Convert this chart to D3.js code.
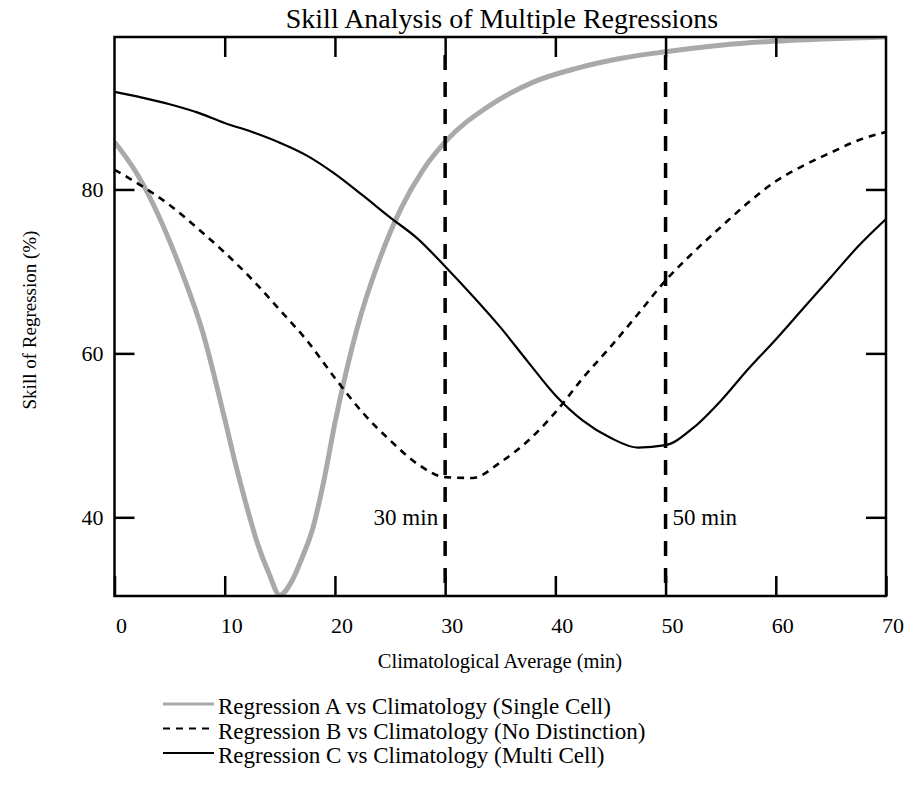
<!DOCTYPE html>
<html>
<head>
<meta charset="utf-8">
<script src="https://cdn.jsdelivr.net/npm/d3@7"></script>
<style>
  html, body { margin: 0; padding: 0; background: #fff; }
  svg { display: block; }
  text { font-family: "Liberation Serif", "Times New Roman", serif; fill: #000; }
</style>
</head>
<body>
<svg id="chart" width="911" height="793"></svg>
<script>
// ---- Data ----
const titleText = "Skill Analysis of Multiple Regressions";
const xLabelText = "Climatological Average (min)";
const yLabelText = "Skill of Regression (%)";

const xTicks = [0, 10, 20, 30, 40, 50, 60, 70];
const yTicks = [40, 60, 80];

// Regression A vs Climatology (Single Cell)
const xA = [0, 2, 4, 6, 8, 10, 11, 12, 13, 14, 15, 16, 17, 18, 19, 20, 22, 24, 26, 28, 30, 34, 38, 42, 46, 50, 55, 60, 65, 70];
const yA = [85.8, 82.0, 76.8, 70.3, 62.6, 52.0, 46.4, 41.3, 36.7, 33.2, 30.5, 32.0, 35.0, 38.7, 44.5, 51.5, 63.0, 71.3, 77.7, 82.4, 85.8, 90.2, 93.1, 94.8, 96.0, 96.8, 97.6, 98.1, 98.4, 98.6];

// Regression B vs Climatology (No Distinction)
const xB = [0, 2.5, 5, 7.5, 10, 12.5, 15, 17.5, 20, 22.5, 25, 27.5, 30, 32.5, 35, 37.5, 40, 42.5, 45, 47.5, 50, 52.5, 55, 57.5, 60, 62.5, 65, 67.5, 70];
const yB = [82.4, 80.4, 78.1, 75.3, 72.3, 69.0, 65.3, 61.5, 57.0, 52.8, 49.4, 46.5, 44.9, 44.8, 46.7, 49.3, 52.8, 57.0, 60.8, 64.8, 68.9, 72.3, 75.4, 78.4, 81.0, 82.9, 84.5, 86.0, 87.0];

// Regression C vs Climatology (Multi Cell)
const xC = [0, 2.5, 5, 7.5, 10, 12.5, 15, 17.5, 20, 22.5, 25, 27.5, 30, 32.5, 35, 37.5, 40, 42.5, 45, 47.5, 50, 52.5, 55, 57.5, 60, 62.5, 65, 67.5, 70];
const yC = [91.9, 91.2, 90.4, 89.4, 88.1, 87.0, 85.7, 84.1, 81.9, 79.3, 76.6, 74.0, 70.6, 67.0, 63.2, 59.0, 54.9, 51.8, 49.7, 48.5, 48.8, 50.9, 54.2, 58.1, 61.7, 65.5, 69.3, 73.1, 76.4];

const markerLines = [30, 50];
const markerLabels = ["30 min", "50 min"];

const legendLabels = [
  "Regression A vs Climatology (Single Cell)",
  "Regression B vs Climatology (No Distinction)",
  "Regression C vs Climatology (Multi Cell)"
];

const xDomain = [0, 70];
const yDomain = [30.4, 98.6];

// ---- Drawing ----
const svg = d3.select("#chart");
const plot = { left: 114.5, right: 886, top: 37, bottom: 596 };

const x = d3.scaleLinear().domain(xDomain).range([plot.left, plot.right]);
const y = d3.scaleLinear().domain(yDomain).range([plot.bottom, plot.top]);

const seriesStyles = [
  { color: "#a9a9a9", width: 5, dash: null },
  { color: "#000", width: 2.6, dash: "7,6" },
  { color: "#000", width: 2.2, dash: null }
];

const seriesData = [
  xA.map((d, i) => [d, yA[i]]),
  xB.map((d, i) => [d, yB[i]]),
  xC.map((d, i) => [d, yC[i]])
];

const line = d3.line().x(d => x(d[0])).y(d => y(d[1])).curve(d3.curveMonotoneX);

svg.append("clipPath").attr("id", "clip").append("rect")
  .attr("x", plot.left).attr("y", plot.top)
  .attr("width", plot.right - plot.left).attr("height", plot.bottom - plot.top);

const g = svg.append("g").attr("clip-path", "url(#clip)");

seriesData.forEach((data, i) => {
  const s = seriesStyles[i];
  g.append("path")
    .datum(data)
    .attr("d", line)
    .attr("fill", "none")
    .attr("stroke", s.color)
    .attr("stroke-width", s.width)
    .attr("stroke-dasharray", s.dash)
    .attr("stroke-linejoin", "round");
});

// vertical marker lines
markerLines.forEach(v => {
  g.append("line")
    .attr("x1", x(v)).attr("x2", x(v))
    .attr("y1", y(yDomain[1]) + 18).attr("y2", y(yDomain[0]))
    .attr("stroke", "#000").attr("stroke-width", 3.5)
    .attr("stroke-dasharray", "15,12");
});

// marker labels
svg.append("text").attr("x", x(markerLines[0]) - 7).attr("y", y(40) + 8)
  .attr("text-anchor", "end").attr("font-size", 23).text(markerLabels[0]);
svg.append("text").attr("x", x(markerLines[1]) + 7).attr("y", y(40) + 8)
  .attr("text-anchor", "start").attr("font-size", 23).text(markerLabels[1]);

// axes (inward ticks on all four sides)
const tickLen = 20;
const xAxisBottom = d3.axisBottom(x).tickValues(xTicks).tickSize(-tickLen).tickFormat("");
const xAxisTop = d3.axisTop(x).tickValues(xTicks.slice(1, -1)).tickSize(-tickLen).tickFormat("");
const yAxisLeft = d3.axisLeft(y).tickValues(yTicks).tickSize(-tickLen).tickFormat("");
const yAxisRight = d3.axisRight(y).tickValues(yTicks).tickSize(-tickLen).tickFormat("");

function styleAxis(sel) {
  sel.select(".domain").remove();
  sel.selectAll(".tick line").attr("stroke", "#000").attr("stroke-width", 2.5);
}
svg.append("g").attr("transform", `translate(0,${plot.bottom})`).call(xAxisBottom).call(styleAxis);
svg.append("g").attr("transform", `translate(0,${plot.top})`).call(xAxisTop).call(styleAxis);
svg.append("g").attr("transform", `translate(${plot.left},0)`).call(yAxisLeft).call(styleAxis);
svg.append("g").attr("transform", `translate(${plot.right},0)`).call(yAxisRight).call(styleAxis);

// frame
svg.append("rect")
  .attr("x", plot.left).attr("y", plot.top)
  .attr("width", plot.right - plot.left).attr("height", plot.bottom - plot.top)
  .attr("fill", "none").attr("stroke", "#000").attr("stroke-width", 2.5);

// tick labels
svg.append("g").selectAll("text").data(xTicks).join("text")
  .attr("x", d => x(d) + 7).attr("y", plot.bottom + 37)
  .attr("text-anchor", "middle").attr("font-size", 22)
  .text(d => d);
svg.append("g").selectAll("text").data(yTicks).join("text")
  .attr("x", plot.left - 11).attr("y", d => y(d) + 8)
  .attr("text-anchor", "end").attr("font-size", 22)
  .text(d => d);

// titles
svg.append("text").attr("x", 502).attr("y", 28)
  .attr("text-anchor", "middle").attr("font-size", 28).text(titleText);
svg.append("text").attr("x", 500).attr("y", 668)
  .attr("text-anchor", "middle").attr("font-size", 20.5).text(xLabelText);
svg.append("text").attr("transform", "translate(36,320) rotate(-90)")
  .attr("text-anchor", "middle").attr("font-size", 19).text(yLabelText);

// legend
const legend = svg.append("g");
legendLabels.forEach((lab, i) => {
  const yy = 707 + i * 24.5;
  const s = seriesStyles[i];
  legend.append("line")
    .attr("x1", 163).attr("x2", 214).attr("y1", yy - 3).attr("y2", yy - 3)
    .attr("stroke", s.color).attr("stroke-width", i === 0 ? 3 : 2.2)
    .attr("stroke-dasharray", s.dash);
  legend.append("text").attr("x", 218).attr("y", yy + 7)
    .attr("font-size", 23).text(lab);
});
</script>
</body>
</html>
